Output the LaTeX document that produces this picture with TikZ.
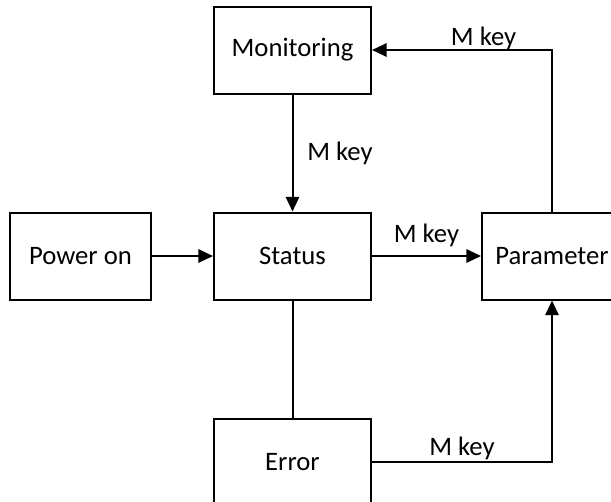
\documentclass[tikz,border=0pt]{standalone}
\usepackage{fontspec}
\setmainfont{Carlito}
\usepackage{tikz}
\usetikzlibrary{arrows.meta,positioning}

\begin{document}
\begin{tikzpicture}[
  x=0.75pt, y=-0.75pt,
  every node/.style={font=\fontsize{20}{24}\selectfont},
  box/.style={draw,line width=1.5pt,minimum width=117.75pt,minimum height=65.25pt,inner sep=0pt},
  arr/.style={-{Triangle[length=11pt,width=10pt]},line width=1.5pt},
  link/.style={line width=1.5pt}
]
\clip (0,0) rectangle (611,501);
\node[box] (status) at (292.5,256) {Status};
\node[box,above=87.75pt of status] (mon) {Monitoring};
\node[box,below=87.75pt of status] (err) {Error};
\node[box,minimum width=105.75pt,left=45.75pt of status] (power) {Power on};
\node[box,minimum width=105pt,right=81.75pt of status] (param) {Parameter};
\draw[arr] (power) -- (status);
\draw[arr] (mon) -- node[right=7pt] {M key} (status);
\draw[arr] (status) -- node[above=3pt] {M key} (param);
\draw[link] (status) -- (err);
\draw[arr] (err) -| node[pos=0.25,above=-2.25pt] {M key} (param);
\draw[arr] (param) |- node[pos=0.69,above=-3.75pt] {M key} (mon);
\end{tikzpicture}
\end{document}
